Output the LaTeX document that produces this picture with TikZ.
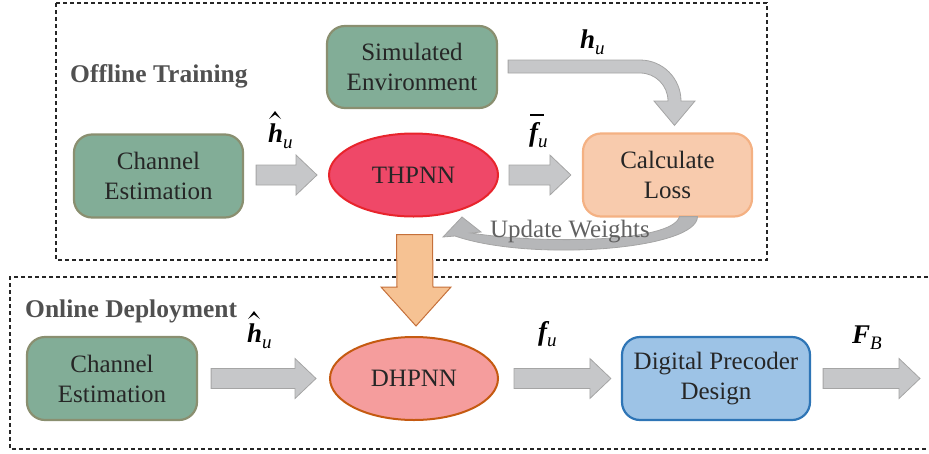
\documentclass[tikz,border=0pt]{standalone}
\usepackage{fontspec}
\setmainfont{Liberation Serif}
\usetikzlibrary{calc,shapes.geometric}
\definecolor{gfill}{HTML}{82AD97}
\definecolor{gdraw}{HTML}{8A8F70}
\definecolor{tfill}{HTML}{EF4868}
\definecolor{tdraw}{HTML}{E8242C}
\definecolor{lfill}{HTML}{F8CBAD}
\definecolor{ldraw}{HTML}{F4B183}
\definecolor{dfill}{HTML}{F59D9D}
\definecolor{ddraw}{HTML}{C55A11}
\definecolor{bfill}{HTML}{9DC3E6}
\definecolor{bdraw}{HTML}{2E75B6}
\definecolor{afill}{HTML}{C6C7C9}
\definecolor{adraw}{HTML}{A5A5A5}
\definecolor{ofill}{HTML}{F6C293}
\definecolor{odraw}{HTML}{C5703A}
\definecolor{txt}{HTML}{262626}
\definecolor{ttl}{HTML}{505050}
\newcommand\fatarrowh[2]{%
  \path #1 coordinate (fa1);
  \path #2 coordinate (fa2);
  \draw[fatar] ($(fa1)+(0,10)$) -- ($(fa2)+(-21,10)$) -- ($(fa2)+(-21,20)$) -- (fa2)
    -- ($(fa2)+(-21,-20)$) -- ($(fa2)+(-21,-10)$) -- ($(fa1)+(0,-10)$) -- cycle;}
\newcommand\mainlet[1]{{\fontsize{27}{27}\selectfont\bfseries\itshape #1}}
\newcommand\sublet[1]{\raisebox{-6pt}{\fontsize{19}{19}\selectfont\itshape #1}}
\begin{document}
\begin{tikzpicture}[x=1pt,y=1pt,
  box/.style={draw, line width=2.2pt, rounded corners=18pt, minimum width=169pt,
    minimum height=83pt, align=center, font=\fontsize{25}{30}\selectfont, text=txt, inner sep=0pt},
  oval/.style={ellipse, draw, line width=2pt, minimum width=168pt, minimum height=83pt,
    font=\fontsize{25}{30}\selectfont, text=txt, inner sep=0pt},
  fatar/.style={fill=afill, draw=adraw, line width=0.8pt, line join=miter},
  region/.style={draw=black!85, dashed, dash pattern=on 4pt off 3pt, line width=1.1pt},
  title/.style={anchor=base west, font=\fontsize{25.5}{30}\selectfont\bfseries, text=ttl, inner sep=0pt},
  lab/.style={anchor=base west, inner sep=0pt, text=black},
  hatmark/.style={fill=black}]
\useasboundingbox (0,0) rectangle (929,-453);

% regions
\draw[region] (56,-3) rectangle (767,-260);
\draw[region] (928,-277) -- (10,-277) -- (10,-449) -- (928,-449);
\node[title] (t1) at (70,-82) {Offline Training};
\node[title] (t2) at (25,-317) {Online Deployment};

% top row
\node[box, fill=gfill, draw=gdraw, minimum width=170pt, minimum height=82pt] (sim) at (412,-67) {Simulated\\Environment};
\node[box, fill=gfill, draw=gdraw] (ce1) at (158.5,-176) {Channel\\Estimation};
\node[oval, fill=tfill, draw=tdraw, minimum width=169pt] (thp) at (413.5,-175) {THPNN};
\node[box, fill=lfill, draw=ldraw] (loss) at (667.5,-175) {Calculate\\Loss};

% bottom row
\node[box, fill=gfill, draw=gdraw, minimum width=170pt] (ce2) at (112,-378.5) {Channel\\Estimation};
\node[oval, fill=dfill, draw=ddraw] (dhp) at (414,-378.5) {DHPNN};
\node[box, fill=bfill, draw=bdraw, minimum width=188pt] (dpd) at (716,-378.5) {Digital Precoder\\Design};
\coordinate (out) at (920,-378.5);

% horizontal fat arrows
\fatarrowh{($(ce1.east |- thp.west)+(12,0)$)}{($(thp.west)+(-11,0)$)}
\fatarrowh{($(thp.east)+(10,0)$)}{($(loss.west)+(-11,0)$)}
\fatarrowh{($(ce2.east)+(13,0)$)}{($(dhp.west)+(-13,0)$)}
\fatarrowh{($(dhp.east)+(15,0)$)}{($(dpd.west)+(-10,0)$)}
\fatarrowh{($(dpd.east)+(12,0)$)}{(out)}

% bent arrow sim -> loss
\draw[fatar] ($(sim.east)+(10,7)$) -- (640,-60) arc[start angle=90,end angle=0,radius=41]
  -- (681,-101) -- (695,-101) -- ($(loss.north)+(7,7)$) -- (654,-101) -- (668,-101)
  arc[start angle=0,end angle=90,radius=28] -- ($(sim.east)+(10,-6)$) -- cycle;

% update weights curved arrow loss -> thp
\draw[fatar, fill=afill!92!black] ($(loss.south)+(30,1)$) .. controls (697,-250) and (530,-262) .. (455,-236)
  -- (443,-237) -- (462,-217) -- (481,-232) -- (471,-233)
  .. controls (540,-244) and (672,-243) .. ($(loss.south)+(12,1)$) -- cycle;
\node[font=\fontsize{25}{30}\selectfont, text=ttl!90!white, inner sep=0pt] (uw) at (570,-232) {Update Weights};

% big orange arrow thp -> dhp
\draw[fill=ofill, draw=odraw, line width=1pt, line join=miter]
  ($(thp.south)+(-17,-17)$) -- ($(thp.south)+(19,-17)$) -- (433,-287) -- (451,-287)
  -- ($(dhp.north)+(2,10)$) -- (381,-287) -- (397,-287) -- cycle;

% labels
\node[lab] (l1) at (268,-142) {\mainlet{h}\sublet{u}};
\fill[hatmark] (269,-119) -- (275,-111) -- (281,-119) -- (275,-114.5) -- cycle;
\node[lab] (l2) at (529,-141) {\makebox[0pt][l]{\hspace{1pt}\raisebox{25pt}{\rule{14pt}{1.6pt}}}\mainlet{f}\sublet{u}};
\node[lab] (l3) at (580,-48) {\mainlet{h}\sublet{u}};
\node[lab] (l4) at (247,-342) {\mainlet{h}\sublet{u}};
\fill[hatmark] (248,-319) -- (254,-311) -- (260,-319) -- (254,-314.5) -- cycle;
\node[lab] (l5) at (538,-340) {\mainlet{f}\sublet{u}};
\node[lab] (l6) at (852,-343) {\mainlet{F}\sublet{B}};
\end{tikzpicture}
\end{document}
